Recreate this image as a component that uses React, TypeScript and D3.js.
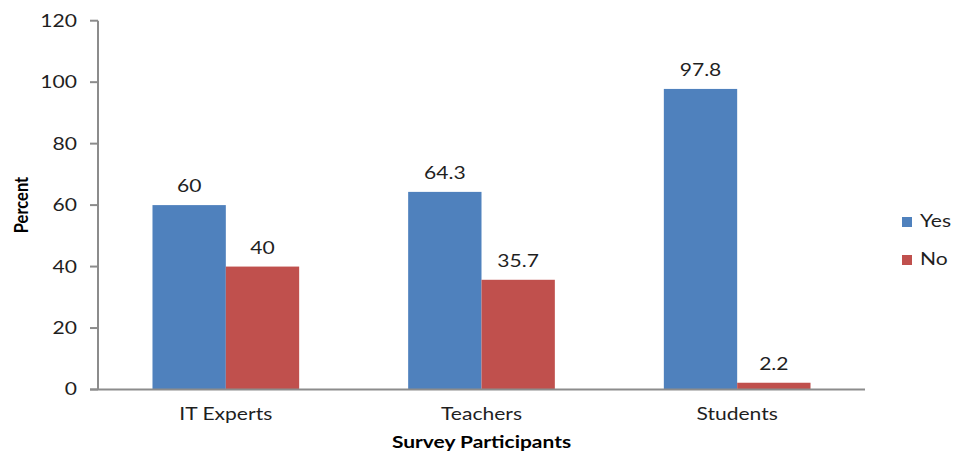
import React from "react";
import * as d3 from "d3";

const categories = ["IT Experts", "Teachers", "Students"];
const seriesNames = ["Yes", "No"];
const yesValues = [60, 64.3, 97.8];
const noValues = [40, 35.7, 2.2];
const yTicks = [0, 20, 40, 60, 80, 100, 120];

const colors = ["#4F81BD", "#C0504D"];
const FONT = "Lato, 'Open Sans', sans-serif";
const STRETCH = 1.24;
const FS = 17;

export default function App() {
  const width = 954;
  const height = 455;
  const left = 98;
  const right = 865;
  const top = 20.7;
  const bottom = 389.5;

  const x = d3.scaleBand<string>().domain(categories).range([left, right]).paddingInner(0.4263).paddingOuter(0.2131);
  const xs = d3.scaleBand<string>().domain(seriesNames).range([0, x.bandwidth()]);
  const y = d3.scaleLinear().domain([0, 120]).range([bottom, top]);

  const series = [yesValues, noValues];
  const axisColor = "#8c8c8c";
  const textColor = "#1f1f1f";

  return (
    <svg width={width} height={height} style={{ display: "block", position: "absolute", left: 0, top: 0 }} fontFamily={FONT}>
      <rect width={width} height={height} fill="#fff" />
      {/* bars */}
      {series.map((vals, si) =>
        categories.map((c, ci) => {
          const bx = (x(c) ?? 0) + (xs(seriesNames[si]) ?? 0);
          const by = y(vals[ci]);
          return (
            <rect key={`${si}-${ci}`} x={bx} y={by} width={xs.bandwidth()} height={bottom - by} fill={colors[si]} />
          );
        })
      )}
      {/* value labels */}
      {series.map((vals, si) =>
        categories.map((c, ci) => {
          const cx = (x(c) ?? 0) + (xs(seriesNames[si]) ?? 0) + xs.bandwidth() / 2;
          return (
            <text key={`l${si}-${ci}`} transform={`translate(${cx},${y(vals[ci]) - 13}) scale(${STRETCH},1)`} textAnchor="middle" fontSize={FS} fill={textColor}>
              {String(vals[ci])}
            </text>
          );
        })
      )}
      {/* y axis */}
      <line x1={left} x2={left} y1={top} y2={bottom} stroke={axisColor} strokeWidth={2} />
      {yTicks.map((t) => (
        <g key={t}>
          <line x1={left - 8} x2={left} y1={y(t)} y2={y(t)} stroke={axisColor} strokeWidth={2} />
          <text transform={`translate(${left - 21},${y(t)}) scale(${STRETCH},1)`} dy="0.35em" textAnchor="end" fontSize={FS} fill={textColor}>
            {t}
          </text>
        </g>
      ))}
      {/* x axis */}
      <line x1={left - 8} x2={right} y1={bottom} y2={bottom} stroke={axisColor} strokeWidth={2} />
      {categories.map((c) => (
        <text key={c} transform={`translate(${(x(c) ?? 0) + x.bandwidth() / 2},${420}) scale(${STRETCH},1)`} textAnchor="middle" fontSize={FS} fill={textColor}>
          {c}
        </text>
      ))}
      {/* axis titles */}
      <text transform={`translate(${481.5},${448}) scale(1.27,1)`} textAnchor="middle" fontSize={16.5} fontWeight="bold" fill="#000">
        Survey Participants
      </text>
      <text transform={`translate(${28},${205}) rotate(-90) scale(1,1.2)`} textAnchor="middle" fontSize={16.5} fontWeight="bold" fill="#000">
        Percent
      </text>
      {/* legend */}
      {seriesNames.map((s, i) => (
        <g key={s} transform={`translate(902,${217 + i * 38})`}>
          <rect width={10} height={10} fill={colors[i]} />
          <text transform={`translate(18,10) scale(${STRETCH},1)`} fontSize={FS} fill={textColor}>
            {s}
          </text>
        </g>
      ))}
    </svg>
  );
}
